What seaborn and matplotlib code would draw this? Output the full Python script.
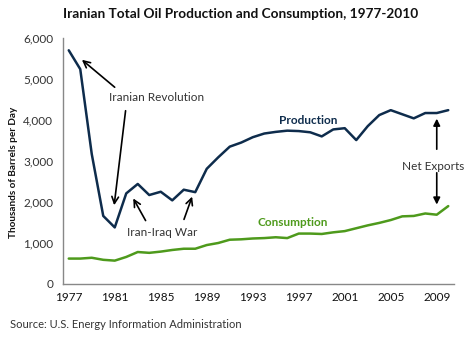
import matplotlib
matplotlib.use("Agg")
import matplotlib.pyplot as plt
import seaborn as sns
import pandas as pd
import numpy as np

years = list(range(1977, 2011))
production = [5700, 5240, 3170, 1660, 1380, 2210, 2440, 2170, 2250, 2040, 2300, 2240,
              2810, 3090, 3350, 3450, 3580, 3670, 3710, 3740, 3730, 3700, 3600, 3770,
              3800, 3510, 3850, 4120, 4240, 4140, 4040, 4170, 4170, 4240]
consumption = [620, 620, 640, 590, 570, 660, 780, 760, 790, 830, 860, 860,
               950, 1000, 1080, 1090, 1110, 1120, 1140, 1120, 1230, 1230, 1220, 1260,
               1290, 1360, 1430, 1490, 1560, 1650, 1660, 1720, 1690, 1900]
tick_years = [1977, 1981, 1985, 1989, 1993, 1997, 2001, 2005, 2009]
y_ticks = [0, 1000, 2000, 3000, 4000, 5000, 6000]

PROD_C = "#0E2C4C"
CONS_C = "#4E9A1C"
TXT = "#333333"

sns.set_style("white")
plt.rcParams['font.family'] = ['Lato', 'DejaVu Sans']

df = pd.DataFrame({"Year": years, "Production": production, "Consumption": consumption})

fig = plt.figure(figsize=(4.68, 3.39), dpi=100)
ax = fig.add_axes([63/468, 1-284/339, (454-63)/468, (284-38)/339])

sns.lineplot(data=df, x="Year", y="Production", ax=ax, color=PROD_C, lw=1.8)
sns.lineplot(data=df, x="Year", y="Consumption", ax=ax, color=CONS_C, lw=1.8)

ax.set_xlim(1976.5, 2010.5)
ax.set_ylim(0, 6000)
ax.set_yticks(y_ticks)
ax.set_yticklabels([f"{v:,}" for v in y_ticks], fontsize=8.5, color=TXT)
ax.set_xticks(tick_years)
ax.set_xticklabels([str(y) for y in tick_years], fontsize=8.5, color="#111111")
ax.set_xticks(np.arange(1976.5, 2011, 1), minor=True)
ax.tick_params(axis='x', which='major', length=0, pad=6)
ax.tick_params(axis='x', which='minor', length=4, width=0.8, color="#888888", direction='out')
ax.tick_params(axis='y', which='major', length=4, width=0.8, color="#888888", direction='out', pad=3)
ax.set_xlabel("")
ax.set_ylabel("")
for s in ["top", "right"]:
    ax.spines[s].set_visible(False)
for s in ["left", "bottom"]:
    ax.spines[s].set_color("#888888")
    ax.spines[s].set_linewidth(1.0)

fig.text(14/468, 1-172/339, "Thousands of Barrels per Day", rotation=90, ha="center", va="center",
         fontsize=7.2, fontweight="bold", color="#111111")
fig.text(241/468, 1-14/339, "Iranian Total Oil Production and Consumption, 1977-2010",
         ha="center", va="center", fontsize=9.8, fontweight="bold", color="#111111")
fig.text(10/468, 1-325/339, "Source: U.S. Energy Information Administration",
         ha="left", va="center", fontsize=8, color=TXT)

ax.text(1984.6, 4537, "Iranian Revolution", ha="center", va="center", fontsize=8.5, color=TXT)
ax.text(1985.1, 1268, "Iran-Iraq War", ha="center", va="center", fontsize=8.5, color=TXT)
ax.text(2008.65, 2878, "Net Exports", ha="center", va="center", fontsize=8.5, color=TXT)
ax.text(1997.84, 4000, "Production", ha="center", va="center", fontsize=8.5, fontweight="bold", color=PROD_C)
ax.text(1996.44, 1488, "Consumption", ha="center", va="center", fontsize=8.5, fontweight="bold", color=CONS_C)

arrow_open = dict(arrowstyle="->", color="black", lw=1.2, mutation_scale=12)
arrow_fill = dict(arrowstyle="-|>", color="black", lw=1.2, mutation_scale=10)
ax.annotate("", xy=(1977.96, 5512), xytext=(1981.18, 4756), arrowprops=arrow_open)
ax.annotate("", xy=(1980.92, 1854), xytext=(1981.97, 4293), arrowprops=arrow_open)
ax.annotate("", xy=(1982.49, 2146), xytext=(1983.8, 1488), arrowprops=arrow_open)
ax.annotate("", xy=(1987.81, 2195), xytext=(1986.94, 1512), arrowprops=arrow_open)
ax.annotate("", xy=(2009.0, 4100), xytext=(2009.0, 3220), arrowprops=arrow_fill)
ax.annotate("", xy=(2009.0, 1870), xytext=(2009.0, 2780), arrowprops=arrow_fill)

fig.savefig("out.png", dpi=100)
